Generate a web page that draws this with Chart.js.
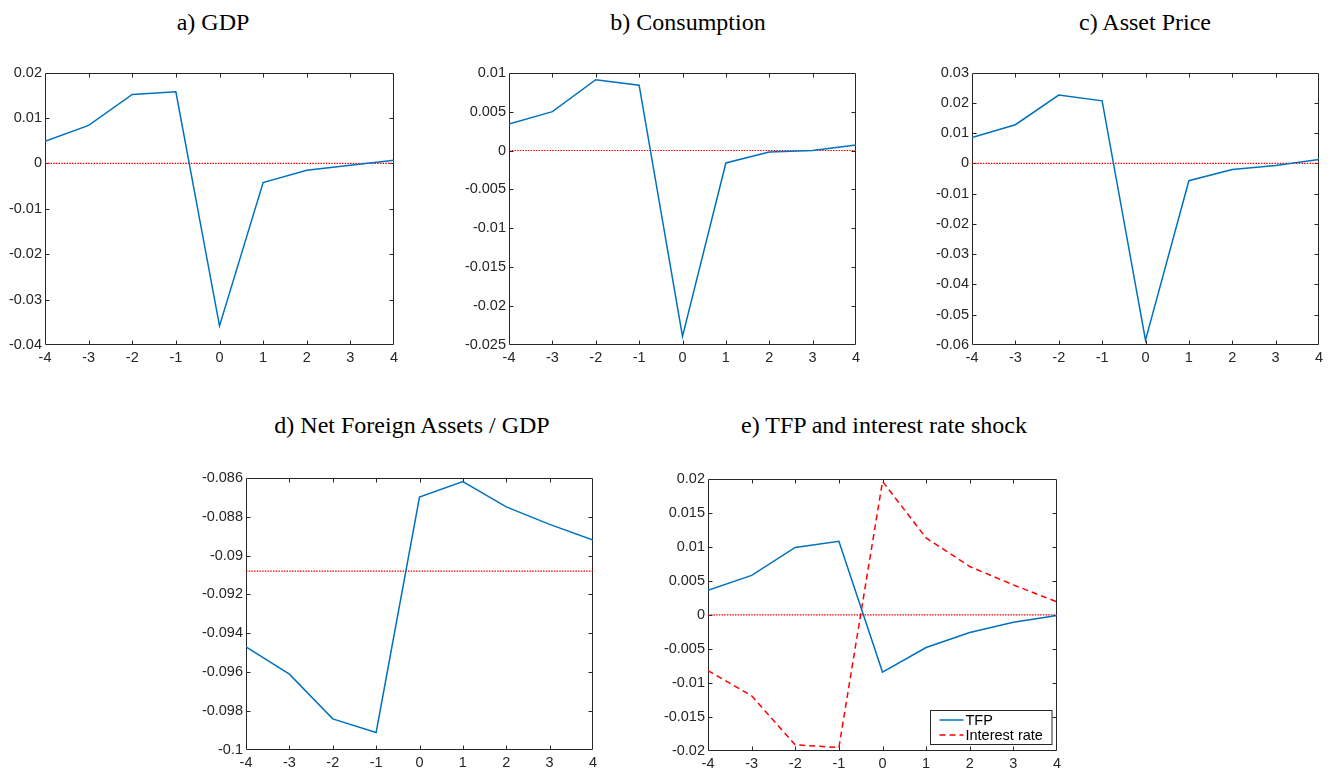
<!DOCTYPE html>
<html>
<head>
<meta charset="utf-8">
<script src="https://cdn.jsdelivr.net/npm/chart.js@4.4.1/dist/chart.umd.min.js"></script>
<style>
  html, body { margin: 0; padding: 0; background: #ffffff; }
  body { position: relative; width: 1333px; height: 772px; overflow: hidden; }
  .ttl {
    position: absolute;
    font-family: "Liberation Serif", "Times New Roman", serif;
    font-size: 24px;
    line-height: 24px;
    color: #000000;
    white-space: nowrap;
    transform: translateX(-50%);
  }
  canvas.pane { position: absolute; }
</style>
</head>
<body>
<script>
// Horizon (quarters around the shock) and x tick values
const horizon = [-4, -3, -2, -1, 0, 1, 2, 3, 4];
const xTicks = [-4, -3, -2, -1, 0, 1, 2, 3, 4];

// Impulse responses
const gdp          = [0.0049, 0.0084, 0.0152, 0.0158, -0.0358, -0.0042, -0.0015, -0.0004, 0.0007];
const consumption  = [0.0034, 0.0050, 0.0091, 0.0084, -0.0239, -0.0016, -0.0002, 0.0000, 0.0007];
const assetPrice   = [0.0086, 0.0128, 0.0226, 0.0207, -0.0584, -0.0057, -0.0020, -0.0007, 0.0013];
const nfaToGdp     = [-0.0947, -0.0961, -0.0984, -0.0991, -0.0870, -0.0862, -0.0875, -0.0884, -0.0892];
const tfp          = [0.0036, 0.0058, 0.0099, 0.0108, -0.0084, -0.0048, -0.0026, -0.0011, -0.0001];
const interestRate = [-0.0082, -0.0119, -0.0191, -0.0195, 0.0196, 0.0113, 0.0071, 0.0044, 0.0019];

// Reference (steady-state) levels
const refZero = [0, 0];
const refNfa  = [-0.0908, -0.0908];
const refX    = [-4, 4];

// y tick values per panel
const yTicksGdp   = [-0.04, -0.03, -0.02, -0.01, 0, 0.01, 0.02];
const yTicksCons  = [-0.025, -0.02, -0.015, -0.01, -0.005, 0, 0.005, 0.01];
const yTicksAsset = [-0.06, -0.05, -0.04, -0.03, -0.02, -0.01, 0, 0.01, 0.02, 0.03];
const yTicksNfa   = [-0.1, -0.098, -0.096, -0.094, -0.092, -0.09, -0.088, -0.086];
const yTicksShock = [-0.02, -0.015, -0.01, -0.005, 0, 0.005, 0.01, 0.015, 0.02];

// Panel titles
const titles = ['a) GDP', 'b) Consumption', 'c) Asset Price', 'd) Net Foreign Assets / GDP', 'e) TFP and interest rate shock'];

const BLUE = '#0072BD';
const RED = '#FF0000';
const AXIS = '#262626';
const TICK_FONT = { family: '"Liberation Sans", Arial, sans-serif', size: 14.5 };

const pairs = (xs, ys) => xs.map((x, i) => ({ x: x, y: ys[i] }));
const fmt = v => String(parseFloat(Number(v).toFixed(6)));

// Box around the plot area with inward tick marks on all four sides
const framePlugin = {
  id: 'frame',
  beforeDatasetsDraw(chart) {
    const { ctx, chartArea: a, scales } = chart;
    const L = Math.round(a.left) + 0.5, R = Math.round(a.right) - 0.5;
    const T = Math.round(a.top) + 0.5, B = Math.round(a.bottom) - 0.5;
    const len = 4;
    ctx.save();
    ctx.strokeStyle = AXIS;
    ctx.lineWidth = 1;
    ctx.beginPath();
    ctx.rect(L, T, R - L, B - T);
    scales.x.ticks.forEach(t => {
      const px = Math.round(scales.x.getPixelForValue(t.value)) + 0.5;
      if (px <= L + 1 || px >= R - 1) return;
      ctx.moveTo(px, B); ctx.lineTo(px, B - len);
      ctx.moveTo(px, T); ctx.lineTo(px, T + len);
    });
    scales.y.ticks.forEach(t => {
      const py = Math.round(scales.y.getPixelForValue(t.value)) + 0.5;
      if (py <= T + 1 || py >= B - 1) return;
      ctx.moveTo(L, py); ctx.lineTo(L + len, py);
      ctx.moveTo(R, py); ctx.lineTo(R - len, py);
    });
    ctx.stroke();
    ctx.restore();
  }
};

// Boxed legend in the lower-right corner of the plot area
const cornerLegend = {
  id: 'cornerLegend',
  afterDatasetsDraw(chart, args, opts) {
    if (!opts || !opts.show) return;
    const { ctx, chartArea: a } = chart;
    const items = chart.data.datasets.filter(d => d.label);
    const w = 121.5, rowH = 15, h = 34;
    const x0 = Math.round(a.right - 6 - w) + 0.5;
    const y0 = Math.round(a.bottom - 7 - h) + 0.5;
    ctx.save();
    ctx.fillStyle = '#ffffff';
    ctx.fillRect(x0, y0, w, h);
    ctx.strokeStyle = AXIS;
    ctx.lineWidth = 1;
    ctx.strokeRect(x0, y0, w, h);
    ctx.font = '14.5px "Liberation Sans", Arial, sans-serif';
    ctx.textBaseline = 'middle';
    items.forEach((d, i) => {
      const cy = y0 + 9.5 + i * rowH;
      ctx.beginPath();
      ctx.strokeStyle = d.borderColor;
      ctx.lineWidth = d.borderWidth;
      ctx.setLineDash(d.borderDash || []);
      ctx.moveTo(x0 + 9, cy);
      ctx.lineTo(x0 + 33, cy);
      ctx.stroke();
      ctx.setLineDash([]);
      ctx.fillStyle = '#000000';
      ctx.fillText(d.label, x0 + 35, cy + 0.5);
    });
    ctx.restore();
  }
};

function addTitle(text, cx, top) {
  const d = document.createElement('div');
  d.className = 'ttl';
  d.textContent = text;
  d.style.left = cx + 'px';
  d.style.top = top + 'px';
  document.body.appendChild(d);
}

function makePanel(p) {
  const [l, t, r, b] = p.area;
  const axisW = 60, padTop = 10, padRight = 16, axisH = 24;
  const cv = document.createElement('canvas');
  cv.className = 'pane';
  const W = (r - l) + axisW + padRight;
  const H = (b - t) + padTop + axisH;
  cv.width = W; cv.height = H;
  cv.style.width = W + 'px'; cv.style.height = H + 'px';
  cv.style.left = (l - axisW) + 'px';
  cv.style.top = (t - padTop) + 'px';
  document.body.appendChild(cv);

  const datasets = p.series.map(s => ({
    label: s.label,
    data: pairs(horizon, s.values),
    borderColor: s.color,
    borderWidth: 1.5,
    borderDash: s.dash || [],
    pointRadius: 0,
    tension: 0,
    fill: false,
    order: 1
  }));
  datasets.push({
    data: pairs(refX, p.ref),
    borderColor: RED,
    borderWidth: 1.2,
    borderDash: [1.5, 1.2],
    pointRadius: 0,
    fill: false,
    order: 2
  });

  new Chart(cv, {
    type: 'line',
    data: { datasets },
    plugins: [framePlugin, cornerLegend],
    options: {
      responsive: false,
      animation: false,
      events: [],
      layout: { autoPadding: false, padding: { left: 0, top: padTop, right: padRight, bottom: 0 } },
      plugins: {
        legend: { display: false },
        tooltip: { enabled: false },
        cornerLegend: { show: !!p.legend }
      },
      scales: {
        x: {
          type: 'linear',
          min: -4, max: 4,
          afterBuildTicks: s => { s.ticks = xTicks.map(v => ({ value: v })); },
          afterFit: s => { s.height = axisH; },
          grid: { display: false, drawTicks: false },
          border: { display: false },
          ticks: { font: TICK_FONT, color: AXIS, padding: 4, maxRotation: 0, autoSkip: false, callback: v => fmt(v) }
        },
        y: {
          type: 'linear',
          min: p.yTicks[0], max: p.yTicks[p.yTicks.length - 1],
          afterBuildTicks: s => { s.ticks = p.yTicks.map(v => ({ value: v })); },
          afterFit: s => { s.width = axisW; },
          grid: { display: false, drawTicks: false },
          border: { display: false },
          ticks: { font: TICK_FONT, color: AXIS, padding: 3, autoSkip: false, callback: v => fmt(v) }
        }
      }
    }
  });
}

const panels = [
  { title: titles[0], tx: 213, ty: 10, area: [45, 71, 394, 345], yTicks: yTicksGdp, ref: refZero,
    series: [{ values: gdp, color: BLUE }] },
  { title: titles[1], tx: 688, ty: 10, area: [509, 71, 856, 345], yTicks: yTicksCons, ref: refZero,
    series: [{ values: consumption, color: BLUE }] },
  { title: titles[2], tx: 1145, ty: 10, area: [972, 71, 1319, 345], yTicks: yTicksAsset, ref: refZero,
    series: [{ values: assetPrice, color: BLUE }] },
  { title: titles[3], tx: 412, ty: 413, area: [246, 476, 593, 750], yTicks: yTicksNfa, ref: refNfa,
    series: [{ values: nfaToGdp, color: BLUE }] },
  { title: titles[4], tx: 884, ty: 413, area: [708, 477, 1057, 751], yTicks: yTicksShock, ref: refZero, legend: true,
    series: [{ label: 'TFP', values: tfp, color: BLUE },
             { label: 'Interest rate', values: interestRate, color: RED, dash: [6, 4] }] }
];

panels.forEach(p => { addTitle(p.title, p.tx, p.ty); makePanel(p); });
</script>
</body>
</html>
